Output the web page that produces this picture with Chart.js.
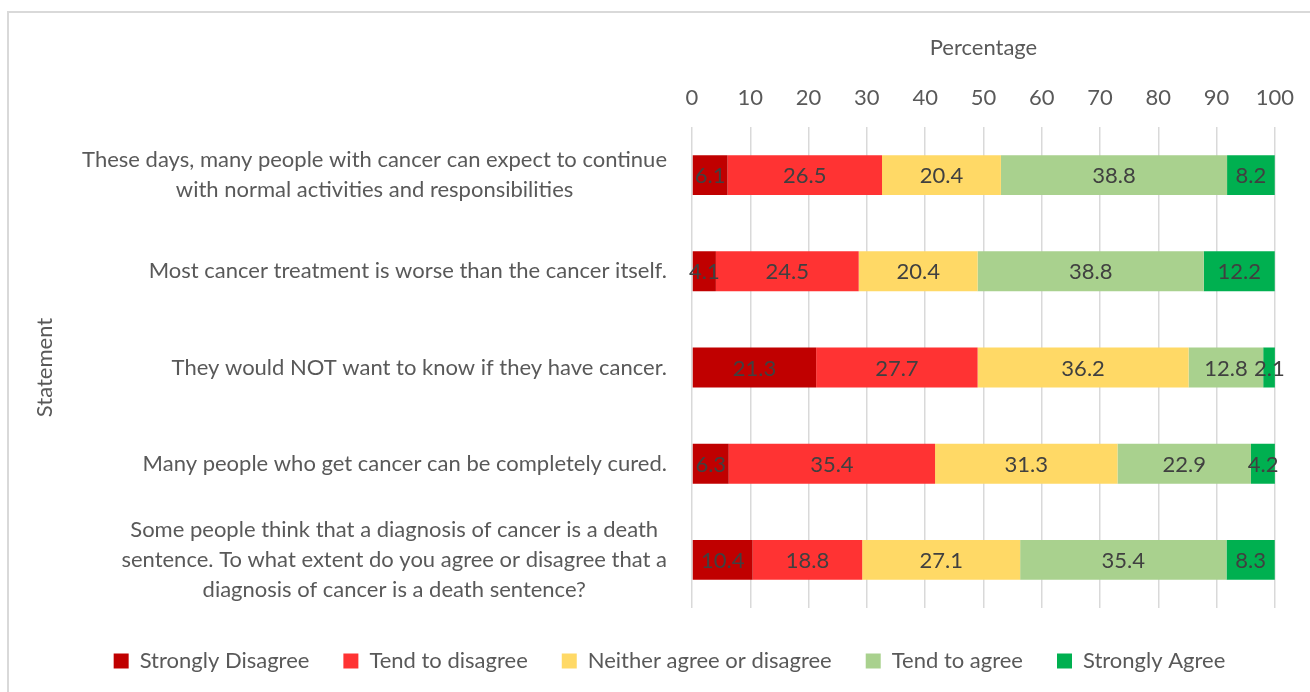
<!DOCTYPE html>
<html>
<head>
<meta charset="utf-8">
<script src="https://cdn.jsdelivr.net/npm/chart.js@4/dist/chart.umd.min.js"></script>
<style>
  html, body { margin: 0; padding: 0; background: #fff; }
  #wrap { position: relative; width: 1310px; height: 692px; overflow: hidden; }
  #frame { position: absolute; left: 7px; top: 11px; width: 1320px; height: 700px;
           border: 2px solid #d9d9d9; box-sizing: border-box; pointer-events: none; }
  canvas { position: absolute; left: 0; top: 0; }
</style>
</head>
<body>
<div id="wrap">
  <div id="frame"></div>
  <canvas id="chart" width="1310" height="692"></canvas>
</div>
<script>
// statements (y categories), multi-line as drawn in the original
var statements = [
  ['These days, many people with cancer can expect to continue', 'with normal activities and responsibilities'],
  ['Most cancer treatment is worse than the cancer itself.'],
  ['They would NOT want to know if they have cancer.'],
  ['Many people who get cancer can be completely cured.'],
  ['Some people think that a diagnosis of cancer is a death', 'sentence. To what extent do you agree or disagree that a', 'diagnosis of cancer is a death sentence?']
];

var seriesNames = ['Strongly Disagree', 'Tend to disagree', 'Neither agree or disagree', 'Tend to agree', 'Strongly Agree'];

var stronglyDisagree = [6.1, 4.1, 21.3, 6.3, 10.4];
var tendDisagree     = [26.5, 24.5, 27.7, 35.4, 18.8];
var neither          = [20.4, 20.4, 36.2, 31.3, 27.1];
var tendAgree        = [38.8, 38.8, 12.8, 22.9, 35.4];
var stronglyAgree    = [8.2, 12.2, 2.1, 4.2, 8.3];

var xTicks = [0, 10, 20, 30, 40, 50, 60, 70, 80, 90, 100];

var colors = ['#C00000', '#FF3333', '#FFD966', '#A9D18E', '#00B050'];

var FONT = 'Lato';
var TEXT = '#595959';
var SIZE = 22;
var LEFT_PAD = 64; // keeps the legend centred like the original

var seriesValues = [stronglyDisagree, tendDisagree, neither, tendAgree, stronglyAgree];
var datasets = seriesValues.map(function (vals, i) {
  return {
    label: seriesNames[i],
    data: vals,
    backgroundColor: colors[i],
    borderWidth: 0,
    barPercentage: 0.415,
    categoryPercentage: 1
  };
});

// draws the value in the middle of every bar segment
var valueLabels = {
  id: 'valueLabels',
  afterDatasetsDraw: function (chart) {
    var ctx = chart.ctx;
    ctx.save();
    ctx.font = SIZE + 'px ' + FONT;
    ctx.fillStyle = '#404040';
    ctx.textAlign = 'center';
    ctx.textBaseline = 'middle';
    chart.data.datasets.forEach(function (ds, i) {
      var meta = chart.getDatasetMeta(i);
      meta.data.forEach(function (bar, j) {
        var p = bar.getProps(['x', 'y', 'base'], true);
        ctx.fillText(ds.data[j].toFixed(1), (p.x + p.base) / 2, p.y + 1);
      });
    });
    ctx.restore();
  }
};

// statement labels: each block right aligned, lines centred inside the block
var statementLabels = {
  id: 'statementLabels',
  afterDraw: function (chart) {
    var ctx = chart.ctx;
    var yScale = chart.scales.y;
    var right = yScale.right - 25;
    var lineH = 30;
    ctx.save();
    ctx.font = SIZE + 'px ' + FONT;
    ctx.fillStyle = TEXT;
    ctx.textAlign = 'center';
    ctx.textBaseline = 'middle';
    statements.forEach(function (lines, i) {
      var widest = 0;
      lines.forEach(function (l) { widest = Math.max(widest, ctx.measureText(l).width); });
      var cx = right - widest / 2;
      var cy = yScale.getPixelForTick(i);
      var y0 = cy - (lines.length - 1) * lineH / 2;
      lines.forEach(function (l, k) {
        ctx.fillText(l, cx, y0 + k * lineH);
      });
    });
    ctx.restore();
  }
};

var ctx = document.getElementById('chart').getContext('2d');
var myChart = new Chart(ctx, {
  type: 'bar',
  data: {
    labels: statements,
    datasets: datasets
  },
  options: {
    indexAxis: 'y',
    responsive: false,
    animation: false,
    devicePixelRatio: 1,
    layout: { padding: { left: LEFT_PAD, top: 15, right: 35, bottom: 10 } },
    scales: {
      x: {
        position: 'top',
        stacked: true,
        min: 0,
        max: 100,
        afterBuildTicks: function (scale) {
          scale.ticks = xTicks.map(function (v) { return { value: v }; });
        },
        afterFit: function (scale) { scale.height = 112; },
        grid: { color: '#d9d9d9', lineWidth: 1.5, drawTicks: false },
        border: { display: false },
        ticks: { color: TEXT, font: { family: FONT, size: SIZE }, padding: 16, maxRotation: 0 },
        title: {
          display: true,
          text: 'Percentage',
          color: TEXT,
          font: { family: FONT, size: SIZE },
          padding: { top: 20, bottom: 0 }
        }
      },
      y: {
        stacked: true,
        afterFit: function (scale) { scale.width = 692 - LEFT_PAD; },
        grid: { display: false },
        border: { display: false },
        ticks: { display: false },
        title: {
          display: true,
          text: 'Statement',
          color: TEXT,
          font: { family: FONT, size: SIZE },
          padding: { top: 45 - LEFT_PAD - 13, bottom: 0 }
        }
      }
    },
    plugins: {
      legend: {
        position: 'bottom',
        title: { display: true, text: ' ', font: { size: 5 }, padding: { top: 2, bottom: 0 } },
        labels: {
          boxWidth: 15,
          boxHeight: 15,
          padding: 34,
          color: TEXT,
          font: { family: FONT, size: SIZE }
        }
      },
      tooltip: { enabled: false }
    }
  },
  plugins: [valueLabels, statementLabels]
});
</script>
</body>
</html>
